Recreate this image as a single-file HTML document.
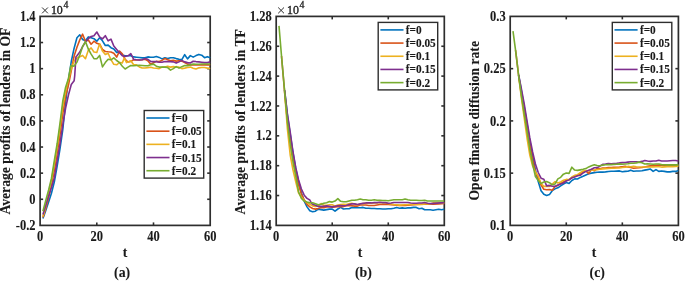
<!DOCTYPE html>
<html><head><meta charset="utf-8"><title>chart</title>
<style>
html,body{margin:0;padding:0;background:#fff;}
svg{display:block;will-change:transform;font-family:"Liberation Serif",serif;font-weight:bold;fill:#1a1a1a;}
text{stroke:#1a1a1a;stroke-width:0.1px;}
.tk{font-size:12.5px;}
.lg{font-size:11.3px;}
.lb{font-size:13.65px;}
.cap{font-size:13.8px;}
</style></head><body>
<svg width="685" height="281" viewBox="0 0 685 281">
<rect width="685" height="281" fill="#fff"/>
<rect x="40.10" y="16.40" width="170.10" height="209.00" fill="none" stroke="#2e2e2e" stroke-width="1.7"/>
<text transform="translate(40.10,241.30) scale(1,1.10)" text-anchor="middle" class="tk">0</text>
<line x1="96.80" y1="225.40" x2="96.80" y2="222.40" stroke="#2e2e2e" stroke-width="1.6"/>
<line x1="96.80" y1="16.40" x2="96.80" y2="19.40" stroke="#2e2e2e" stroke-width="1.6"/>
<text transform="translate(96.80,241.30) scale(1,1.10)" text-anchor="middle" class="tk">20</text>
<line x1="153.50" y1="225.40" x2="153.50" y2="222.40" stroke="#2e2e2e" stroke-width="1.6"/>
<line x1="153.50" y1="16.40" x2="153.50" y2="19.40" stroke="#2e2e2e" stroke-width="1.6"/>
<text transform="translate(153.50,241.30) scale(1,1.10)" text-anchor="middle" class="tk">40</text>
<text transform="translate(210.20,241.30) scale(1,1.10)" text-anchor="middle" class="tk">60</text>
<text transform="translate(35.60,21.00) scale(1,1.10)" text-anchor="end" class="tk">1.4</text>
<line x1="40.10" y1="42.52" x2="43.10" y2="42.52" stroke="#2e2e2e" stroke-width="1.6"/>
<line x1="210.20" y1="42.52" x2="207.20" y2="42.52" stroke="#2e2e2e" stroke-width="1.6"/>
<text transform="translate(35.60,47.12) scale(1,1.10)" text-anchor="end" class="tk">1.2</text>
<line x1="40.10" y1="68.65" x2="43.10" y2="68.65" stroke="#2e2e2e" stroke-width="1.6"/>
<line x1="210.20" y1="68.65" x2="207.20" y2="68.65" stroke="#2e2e2e" stroke-width="1.6"/>
<text transform="translate(35.60,73.25) scale(1,1.10)" text-anchor="end" class="tk">1</text>
<line x1="40.10" y1="94.78" x2="43.10" y2="94.78" stroke="#2e2e2e" stroke-width="1.6"/>
<line x1="210.20" y1="94.78" x2="207.20" y2="94.78" stroke="#2e2e2e" stroke-width="1.6"/>
<text transform="translate(35.60,99.38) scale(1,1.10)" text-anchor="end" class="tk">0.8</text>
<line x1="40.10" y1="120.90" x2="43.10" y2="120.90" stroke="#2e2e2e" stroke-width="1.6"/>
<line x1="210.20" y1="120.90" x2="207.20" y2="120.90" stroke="#2e2e2e" stroke-width="1.6"/>
<text transform="translate(35.60,125.50) scale(1,1.10)" text-anchor="end" class="tk">0.6</text>
<line x1="40.10" y1="147.03" x2="43.10" y2="147.03" stroke="#2e2e2e" stroke-width="1.6"/>
<line x1="210.20" y1="147.03" x2="207.20" y2="147.03" stroke="#2e2e2e" stroke-width="1.6"/>
<text transform="translate(35.60,151.62) scale(1,1.10)" text-anchor="end" class="tk">0.4</text>
<line x1="40.10" y1="173.15" x2="43.10" y2="173.15" stroke="#2e2e2e" stroke-width="1.6"/>
<line x1="210.20" y1="173.15" x2="207.20" y2="173.15" stroke="#2e2e2e" stroke-width="1.6"/>
<text transform="translate(35.60,177.75) scale(1,1.10)" text-anchor="end" class="tk">0.2</text>
<line x1="40.10" y1="199.28" x2="43.10" y2="199.28" stroke="#2e2e2e" stroke-width="1.6"/>
<line x1="210.20" y1="199.28" x2="207.20" y2="199.28" stroke="#2e2e2e" stroke-width="1.6"/>
<text transform="translate(35.60,203.88) scale(1,1.10)" text-anchor="end" class="tk">0</text>
<text transform="translate(35.60,230.00) scale(1,1.10)" text-anchor="end" class="tk">-0.2</text>
<path d="M42.10 7.50 l5.8 5.8 m0 -5.8 l-5.8 5.8" stroke="#2e2e2e" stroke-width="1.0" fill="none"/>
<text x="50.90" y="13.70" style="font-size:11.9px;font-weight:normal;stroke-width:0.35px">10</text>
<text x="63.40" y="7.70" style="font-size:9.8px;font-weight:normal;stroke-width:0.3px">4</text>
<polyline points="42.94,218.40 45.77,210.50 48.61,202.00 51.44,193.20 54.28,182.00 57.11,166.30 59.95,149.10 62.78,129.70 65.62,102.00 68.45,80.00 71.28,61.50 74.12,48.20 76.95,37.80 79.79,34.80 82.62,39.50 85.46,40.80 88.30,36.90 91.13,37.80 93.97,38.70 96.80,41.20 99.63,37.80 102.47,40.80 105.31,45.50 108.14,45.10 110.97,47.70 113.81,49.00 116.65,52.40 119.48,51.50 122.31,55.11 125.15,55.80 127.99,55.80 130.82,55.80 133.66,56.91 136.49,57.19 139.32,57.47 142.16,57.88 145.00,57.88 147.83,56.91 150.66,57.19 153.50,57.19 156.34,56.50 159.17,57.40 162.00,58.89 164.84,57.70 167.68,58.60 170.51,57.70 173.34,57.70 176.18,58.60 179.01,59.19 181.85,59.64 184.69,54.71 187.52,58.89 190.35,55.61 193.19,57.10 196.03,55.61 198.86,54.41 201.69,55.16 204.53,57.70 207.36,56.65 210.20,57.70" fill="none" stroke="#0072BD" stroke-width="1.6" stroke-linejoin="round" stroke-linecap="butt"/>
<polyline points="42.94,217.50 45.77,208.50 48.61,197.50 51.44,184.80 54.28,170.60 57.11,153.40 59.95,135.20 62.78,113.60 65.62,96.00 68.45,85.00 71.28,70.50 74.12,56.00 76.95,47.20 79.79,39.90 82.62,34.20 85.46,41.20 88.30,40.00 91.13,44.20 93.97,41.20 96.80,43.30 99.63,44.20 102.47,49.40 105.31,51.50 108.14,51.80 110.97,52.00 113.81,53.30 116.65,57.10 119.48,51.20 122.31,53.90 125.15,59.27 127.99,62.05 130.82,61.35 133.66,59.69 136.49,59.97 139.32,59.97 142.16,59.69 145.00,59.27 147.83,60.66 150.66,64.13 153.50,62.74 156.34,61.35 159.17,61.58 162.00,60.39 164.84,58.60 167.68,59.64 170.51,60.69 173.34,60.39 176.18,61.14 179.01,60.69 181.85,61.14 184.69,62.63 187.52,64.12 190.35,64.87 193.19,64.87 210.20,64.87" fill="none" stroke="#D95319" stroke-width="1.6" stroke-linejoin="round" stroke-linecap="butt"/>
<polyline points="42.94,216.50 45.77,206.00 48.61,194.00 51.44,180.60 54.28,164.50 57.11,147.40 59.95,127.60 62.78,105.50 65.62,91.00 68.45,79.50 71.28,68.50 74.12,61.00 76.95,58.00 79.79,56.70 82.62,55.40 85.46,58.70 88.30,50.30 91.13,47.90 93.97,52.00 96.80,52.40 99.63,43.80 102.47,51.10 105.31,54.50 108.14,53.30 110.97,59.70 113.81,64.30 116.65,64.80 119.48,62.50 122.31,62.90 124.30,58.10 126.57,62.60 127.99,61.90 130.82,60.80 133.66,64.82 136.49,64.82 139.32,66.90 142.16,68.01 145.00,68.01 147.83,67.59 150.66,67.18 153.50,68.01 156.34,68.29 159.17,68.60 162.00,67.11 164.84,67.11 167.68,66.36 170.51,67.11 173.34,66.66 176.18,67.11 179.01,67.11 181.85,68.60 184.69,68.15 187.52,67.56 190.35,67.11 193.19,68.15 196.03,69.05 198.86,67.86 201.69,67.56 204.53,67.56 207.36,68.15 210.20,68.60" fill="none" stroke="#EDB120" stroke-width="1.6" stroke-linejoin="round" stroke-linecap="butt"/>
<polyline points="42.94,214.50 45.77,205.50 48.61,196.00 51.44,187.50 54.28,178.00 57.11,161.00 59.95,144.00 62.78,125.00 65.62,108.00 68.45,95.00 71.28,84.50 74.12,80.80 74.69,76.00 75.91,57.10 76.95,55.80 79.79,52.00 82.62,46.60 85.46,42.00 88.30,38.70 91.13,36.50 93.97,35.70 96.80,32.00 99.63,36.90 102.47,38.90 105.31,35.70 108.14,40.80 110.97,39.10 113.81,46.00 116.65,49.40 119.48,52.80 122.31,55.80 125.15,56.50 127.99,55.80 130.82,53.72 133.66,59.27 136.49,59.69 139.32,59.97 142.16,59.69 145.00,58.58 147.83,59.27 150.66,61.35 153.50,61.63 156.34,61.63 159.17,62.18 162.00,62.18 164.84,61.58 167.68,61.58 170.51,61.58 173.34,61.88 176.18,63.08 179.01,61.88 181.85,60.39 184.69,61.88 187.52,62.63 190.35,63.00 193.19,61.20 196.03,61.58 198.86,61.88 201.69,62.18 204.53,62.63 207.36,62.63 210.20,61.88" fill="none" stroke="#7E2F8E" stroke-width="1.6" stroke-linejoin="round" stroke-linecap="butt"/>
<polyline points="42.94,211.20 45.77,200.50 48.61,190.00 51.44,178.50 54.28,161.00 57.11,144.00 59.95,123.50 62.78,101.00 65.62,87.20 68.45,78.50 70.72,66.20 71.28,65.70 74.12,66.10 76.95,62.10 79.79,55.00 82.62,46.40 85.46,41.60 88.30,49.00 91.13,54.10 93.97,58.60 96.80,58.80 99.63,55.40 102.47,66.90 105.31,62.60 108.14,59.20 110.97,59.80 113.81,57.90 116.65,60.50 119.48,62.60 122.31,66.21 125.15,68.98 127.99,67.18 130.82,65.51 133.66,65.79 136.49,65.51 139.32,65.24 142.16,65.51 145.00,65.79 147.83,65.79 150.66,64.82 153.50,64.13 156.34,66.21 159.17,67.11 162.00,67.11 164.84,67.11 167.68,67.56 170.51,70.10 173.34,68.60 176.18,66.66 179.01,68.15 181.85,66.66 184.69,65.62 187.52,65.62 190.35,64.87 193.19,63.98 196.03,64.27 198.86,64.27 201.69,63.98 204.53,63.98 207.36,63.98 210.20,63.98" fill="none" stroke="#77AC30" stroke-width="1.6" stroke-linejoin="round" stroke-linecap="butt"/>
<rect x="144.20" y="110.50" width="59.50" height="67.60" fill="#fff" stroke="#2e2e2e" stroke-width="1.4"/>
<line x1="146.40" y1="118.00" x2="169.50" y2="118.00" stroke="#0072BD" stroke-width="1.6"/>
<text transform="translate(171.80,122.00) scale(1,1.05)" class="lg">f=0</text>
<line x1="146.40" y1="131.18" x2="169.50" y2="131.18" stroke="#D95319" stroke-width="1.6"/>
<text transform="translate(171.80,135.18) scale(1,1.05)" class="lg">f=0.05</text>
<line x1="146.40" y1="144.36" x2="169.50" y2="144.36" stroke="#EDB120" stroke-width="1.6"/>
<text transform="translate(171.80,148.36) scale(1,1.05)" class="lg">f=0.1</text>
<line x1="146.40" y1="157.54" x2="169.50" y2="157.54" stroke="#7E2F8E" stroke-width="1.6"/>
<text transform="translate(171.80,161.54) scale(1,1.05)" class="lg">f=0.15</text>
<line x1="146.40" y1="170.72" x2="169.50" y2="170.72" stroke="#77AC30" stroke-width="1.6"/>
<text transform="translate(171.80,174.72) scale(1,1.05)" class="lg">f=0.2</text>
<rect x="276.20" y="16.40" width="168.10" height="209.00" fill="none" stroke="#2e2e2e" stroke-width="1.7"/>
<text transform="translate(276.20,241.30) scale(1,1.10)" text-anchor="middle" class="tk">0</text>
<line x1="332.23" y1="225.40" x2="332.23" y2="222.40" stroke="#2e2e2e" stroke-width="1.6"/>
<line x1="332.23" y1="16.40" x2="332.23" y2="19.40" stroke="#2e2e2e" stroke-width="1.6"/>
<text transform="translate(332.23,241.30) scale(1,1.10)" text-anchor="middle" class="tk">20</text>
<line x1="388.27" y1="225.40" x2="388.27" y2="222.40" stroke="#2e2e2e" stroke-width="1.6"/>
<line x1="388.27" y1="16.40" x2="388.27" y2="19.40" stroke="#2e2e2e" stroke-width="1.6"/>
<text transform="translate(388.27,241.30) scale(1,1.10)" text-anchor="middle" class="tk">40</text>
<text transform="translate(444.30,241.30) scale(1,1.10)" text-anchor="middle" class="tk">60</text>
<text transform="translate(271.70,21.00) scale(1,1.10)" text-anchor="end" class="tk">1.28</text>
<line x1="276.20" y1="46.26" x2="279.20" y2="46.26" stroke="#2e2e2e" stroke-width="1.6"/>
<line x1="444.30" y1="46.26" x2="441.30" y2="46.26" stroke="#2e2e2e" stroke-width="1.6"/>
<text transform="translate(271.70,50.86) scale(1,1.10)" text-anchor="end" class="tk">1.26</text>
<line x1="276.20" y1="76.11" x2="279.20" y2="76.11" stroke="#2e2e2e" stroke-width="1.6"/>
<line x1="444.30" y1="76.11" x2="441.30" y2="76.11" stroke="#2e2e2e" stroke-width="1.6"/>
<text transform="translate(271.70,80.71) scale(1,1.10)" text-anchor="end" class="tk">1.24</text>
<line x1="276.20" y1="105.97" x2="279.20" y2="105.97" stroke="#2e2e2e" stroke-width="1.6"/>
<line x1="444.30" y1="105.97" x2="441.30" y2="105.97" stroke="#2e2e2e" stroke-width="1.6"/>
<text transform="translate(271.70,110.57) scale(1,1.10)" text-anchor="end" class="tk">1.22</text>
<line x1="276.20" y1="135.83" x2="279.20" y2="135.83" stroke="#2e2e2e" stroke-width="1.6"/>
<line x1="444.30" y1="135.83" x2="441.30" y2="135.83" stroke="#2e2e2e" stroke-width="1.6"/>
<text transform="translate(271.70,140.43) scale(1,1.10)" text-anchor="end" class="tk">1.2</text>
<line x1="276.20" y1="165.69" x2="279.20" y2="165.69" stroke="#2e2e2e" stroke-width="1.6"/>
<line x1="444.30" y1="165.69" x2="441.30" y2="165.69" stroke="#2e2e2e" stroke-width="1.6"/>
<text transform="translate(271.70,170.29) scale(1,1.10)" text-anchor="end" class="tk">1.18</text>
<line x1="276.20" y1="195.54" x2="279.20" y2="195.54" stroke="#2e2e2e" stroke-width="1.6"/>
<line x1="444.30" y1="195.54" x2="441.30" y2="195.54" stroke="#2e2e2e" stroke-width="1.6"/>
<text transform="translate(271.70,200.14) scale(1,1.10)" text-anchor="end" class="tk">1.16</text>
<text transform="translate(271.70,230.00) scale(1,1.10)" text-anchor="end" class="tk">1.14</text>
<path d="M278.20 7.50 l5.8 5.8 m0 -5.8 l-5.8 5.8" stroke="#2e2e2e" stroke-width="1.0" fill="none"/>
<text x="287.00" y="13.70" style="font-size:11.9px;font-weight:normal;stroke-width:0.35px">10</text>
<text x="299.50" y="7.70" style="font-size:9.8px;font-weight:normal;stroke-width:0.3px">4</text>
<polyline points="284.61,90.50 287.41,115.00 290.21,134.00 293.01,153.00 295.81,169.00 298.61,182.00 301.41,193.00 304.22,201.10 307.02,206.90 309.82,210.70 312.62,211.70 315.42,211.20 318.23,209.10 321.03,209.60 323.83,210.10 326.63,209.60 329.43,209.10 332.23,209.10 335.03,211.20 337.84,209.00 340.64,207.40 343.44,209.00 346.24,208.68 349.04,208.68 351.85,207.40 354.65,207.72 357.45,207.72 360.25,207.72 363.05,207.40 365.85,208.20 368.65,208.20 371.46,208.52 374.26,208.52 377.06,208.68 379.86,208.68 382.66,209.00 385.47,209.00 388.27,208.68 391.07,208.68 393.87,208.20 396.67,207.40 399.47,208.20 402.27,207.88 405.08,208.20 407.88,207.88 410.68,207.88 413.48,207.40 416.28,207.40 419.09,208.68 421.89,208.20 424.69,209.80 427.49,209.80 430.29,209.80 433.09,210.28 435.89,209.80 438.70,209.32 441.50,209.80 444.30,209.32" fill="none" stroke="#0072BD" stroke-width="1.6" stroke-linejoin="round" stroke-linecap="butt"/>
<polyline points="281.52,56.14 281.80,59.50 284.61,92.30 287.41,121.00 290.21,140.00 293.01,158.00 295.81,173.00 298.61,185.00 301.41,194.00 304.22,200.00 307.02,204.30 309.82,206.90 312.62,208.50 315.42,209.10 318.23,208.50 321.03,207.50 323.83,207.80 326.63,206.90 329.43,206.90 332.23,207.10 335.03,206.90 337.84,206.60 340.64,206.60 343.44,206.60 346.24,205.80 349.04,205.80 351.85,205.80 354.65,206.12 357.45,206.12 360.25,205.00 363.05,205.00 365.85,205.00 368.65,205.48 371.46,205.48 374.26,205.48 377.06,205.00 379.86,204.52 382.66,204.52 385.47,204.52 388.27,204.52 393.87,205.00 399.47,205.48 405.08,205.48 410.68,205.00 416.28,204.52 421.89,204.20 427.49,204.20 433.09,204.20 438.70,203.88 444.30,203.40" fill="none" stroke="#D95319" stroke-width="1.6" stroke-linejoin="round" stroke-linecap="butt"/>
<polyline points="284.61,92.00 287.41,129.00 290.21,155.00 293.01,170.00 295.81,182.00 298.61,193.00 301.41,197.00 304.22,200.50 307.02,202.70 309.82,204.30 312.62,205.90 315.42,206.40 318.23,205.90 321.03,203.50 323.83,205.30 326.63,205.30 329.43,204.80 332.23,204.80 335.03,205.90 337.84,205.00 340.64,204.52 343.44,204.20 346.24,204.52 349.04,203.88 351.85,203.24 357.45,204.77 360.25,204.13 363.05,203.65 365.85,203.17 368.65,203.17 371.46,203.17 374.26,202.85 377.06,202.85 379.86,202.53 382.66,202.85 385.47,202.85 388.27,203.55 393.87,204.48 399.47,205.12 405.08,204.80 410.68,204.48 416.28,204.48 421.89,204.48 427.49,203.60 430.29,203.92 433.09,202.90 438.70,202.90 444.30,202.90" fill="none" stroke="#EDB120" stroke-width="1.6" stroke-linejoin="round" stroke-linecap="butt"/>
<polyline points="284.61,90.00 287.41,114.00 290.21,132.00 293.01,152.00 295.81,168.00 298.61,180.00 301.41,189.00 304.22,195.20 307.02,198.40 309.82,200.00 311.50,203.20 312.62,204.30 315.42,205.30 318.23,206.40 321.03,206.40 323.83,206.40 326.63,205.90 329.43,206.40 332.23,206.90 335.03,206.40 337.84,205.80 340.64,205.48 343.44,205.80 346.24,205.48 349.04,204.52 351.85,203.88 354.65,203.88 357.45,204.52 360.25,203.88 363.05,203.40 365.85,202.92 368.65,202.92 371.46,202.92 374.26,202.60 377.06,202.60 379.86,202.28 382.66,202.60 385.47,202.60 388.27,203.30 391.07,202.98 393.87,202.50 405.08,202.50 407.88,202.50 410.68,202.98 413.48,203.30 416.28,203.30 419.09,202.98 421.89,202.98 424.69,202.50 427.49,203.30 430.29,203.62 444.30,202.60" fill="none" stroke="#7E2F8E" stroke-width="1.6" stroke-linejoin="round" stroke-linecap="butt"/>
<polyline points="279.00,25.90 281.80,59.50 284.61,91.00 287.41,122.00 290.21,144.00 293.01,162.00 295.81,176.00 298.61,192.00 301.41,198.40 304.22,201.10 307.02,202.10 309.82,202.70 312.62,202.70 315.42,203.70 318.23,204.80 321.03,204.30 323.83,203.20 326.63,202.70 329.43,201.60 332.23,202.10 335.03,201.10 337.84,198.70 340.64,201.32 343.44,201.80 346.24,201.80 349.04,201.00 351.85,200.20 354.65,200.20 357.45,199.72 360.25,199.08 363.05,199.72 365.85,199.72 368.65,200.20 371.46,200.20 374.26,199.72 377.06,200.20 379.86,200.20 382.66,200.52 385.47,200.52 388.27,200.68 391.07,200.20 393.87,199.72 396.67,199.72 399.47,199.72 402.27,199.72 405.08,199.08 407.88,199.72 410.68,200.20 413.48,200.20 416.28,200.20 419.09,200.52 421.89,200.52 424.69,200.20 427.49,201.00 430.29,201.00 433.09,201.00 444.30,201.00" fill="none" stroke="#77AC30" stroke-width="1.6" stroke-linejoin="round" stroke-linecap="butt"/>
<rect x="378.20" y="22.40" width="59.50" height="67.50" fill="#fff" stroke="#2e2e2e" stroke-width="1.4"/>
<line x1="380.40" y1="29.90" x2="403.50" y2="29.90" stroke="#0072BD" stroke-width="1.6"/>
<text transform="translate(405.80,33.90) scale(1,1.05)" class="lg">f=0</text>
<line x1="380.40" y1="43.08" x2="403.50" y2="43.08" stroke="#D95319" stroke-width="1.6"/>
<text transform="translate(405.80,47.08) scale(1,1.05)" class="lg">f=0.05</text>
<line x1="380.40" y1="56.26" x2="403.50" y2="56.26" stroke="#EDB120" stroke-width="1.6"/>
<text transform="translate(405.80,60.26) scale(1,1.05)" class="lg">f=0.1</text>
<line x1="380.40" y1="69.44" x2="403.50" y2="69.44" stroke="#7E2F8E" stroke-width="1.6"/>
<text transform="translate(405.80,73.44) scale(1,1.05)" class="lg">f=0.15</text>
<line x1="380.40" y1="82.62" x2="403.50" y2="82.62" stroke="#77AC30" stroke-width="1.6"/>
<text transform="translate(405.80,86.62) scale(1,1.05)" class="lg">f=0.2</text>
<rect x="510.20" y="16.40" width="168.20" height="209.00" fill="none" stroke="#2e2e2e" stroke-width="1.7"/>
<text transform="translate(510.20,241.30) scale(1,1.10)" text-anchor="middle" class="tk">0</text>
<line x1="566.27" y1="225.40" x2="566.27" y2="222.40" stroke="#2e2e2e" stroke-width="1.6"/>
<line x1="566.27" y1="16.40" x2="566.27" y2="19.40" stroke="#2e2e2e" stroke-width="1.6"/>
<text transform="translate(566.27,241.30) scale(1,1.10)" text-anchor="middle" class="tk">20</text>
<line x1="622.33" y1="225.40" x2="622.33" y2="222.40" stroke="#2e2e2e" stroke-width="1.6"/>
<line x1="622.33" y1="16.40" x2="622.33" y2="19.40" stroke="#2e2e2e" stroke-width="1.6"/>
<text transform="translate(622.33,241.30) scale(1,1.10)" text-anchor="middle" class="tk">40</text>
<text transform="translate(678.40,241.30) scale(1,1.10)" text-anchor="middle" class="tk">60</text>
<text transform="translate(505.70,21.00) scale(1,1.10)" text-anchor="end" class="tk">0.3</text>
<line x1="510.20" y1="68.65" x2="513.20" y2="68.65" stroke="#2e2e2e" stroke-width="1.6"/>
<line x1="678.40" y1="68.65" x2="675.40" y2="68.65" stroke="#2e2e2e" stroke-width="1.6"/>
<text transform="translate(505.70,73.25) scale(1,1.10)" text-anchor="end" class="tk">0.25</text>
<line x1="510.20" y1="120.90" x2="513.20" y2="120.90" stroke="#2e2e2e" stroke-width="1.6"/>
<line x1="678.40" y1="120.90" x2="675.40" y2="120.90" stroke="#2e2e2e" stroke-width="1.6"/>
<text transform="translate(505.70,125.50) scale(1,1.10)" text-anchor="end" class="tk">0.2</text>
<line x1="510.20" y1="173.15" x2="513.20" y2="173.15" stroke="#2e2e2e" stroke-width="1.6"/>
<line x1="678.40" y1="173.15" x2="675.40" y2="173.15" stroke="#2e2e2e" stroke-width="1.6"/>
<text transform="translate(505.70,177.75) scale(1,1.10)" text-anchor="end" class="tk">0.15</text>
<text transform="translate(505.70,230.00) scale(1,1.10)" text-anchor="end" class="tk">0.1</text>
<polyline points="518.61,75.00 521.41,91.00 524.22,107.00 527.02,124.00 529.82,141.00 532.63,156.00 535.43,170.00 538.23,181.60 541.04,190.70 543.84,194.30 546.64,195.50 549.45,194.60 552.25,190.70 555.05,188.80 557.86,187.80 560.66,185.90 563.46,184.00 566.27,182.60 569.07,183.40 571.87,180.52 574.68,178.92 577.48,179.00 580.28,177.40 583.09,176.30 585.89,174.99 588.69,173.71 591.50,173.10 594.30,172.60 597.10,172.30 599.91,172.10 602.71,172.10 605.51,171.90 608.32,171.50 611.12,171.20 613.92,171.20 616.73,171.08 619.53,170.92 622.33,171.73 625.14,171.41 627.94,171.20 630.74,170.13 633.55,171.20 636.35,170.99 639.15,170.99 641.96,170.67 644.76,170.13 647.56,169.60 650.37,169.07 653.17,171.41 655.97,169.60 658.78,171.41 661.58,170.92 664.38,171.40 667.19,171.88 669.99,171.88 672.79,171.40 675.60,171.40 678.40,170.60" fill="none" stroke="#0072BD" stroke-width="1.6" stroke-linejoin="round" stroke-linecap="butt"/>
<polyline points="515.53,50.10 515.81,52.20 518.61,75.50 521.41,94.00 524.22,111.00 527.02,128.00 529.82,145.00 532.63,160.00 535.43,172.00 538.23,177.80 541.04,185.00 543.84,189.30 546.64,189.80 549.45,189.50 552.25,190.20 555.05,186.40 557.86,185.40 560.66,183.50 563.46,182.00 566.27,180.20 569.07,179.40 571.87,177.80 574.68,176.20 577.48,175.40 580.28,174.20 583.09,172.10 585.89,171.00 588.69,173.70 591.50,169.40 594.30,170.80 597.10,168.53 599.91,168.85 602.71,168.00 605.51,168.00 608.32,167.57 611.12,167.47 613.92,167.25 616.73,167.36 619.53,167.15 622.33,166.72 625.14,166.40 627.94,166.93 630.74,167.47 633.55,168.21 636.35,168.00 639.15,167.79 641.96,167.47 644.76,166.93 647.56,166.40 650.37,165.87 653.17,165.65 655.97,165.33 658.78,165.01 661.58,165.20 664.38,165.30 667.19,165.30 669.99,165.30 672.79,165.30 675.60,165.30 678.40,165.20" fill="none" stroke="#D95319" stroke-width="1.6" stroke-linejoin="round" stroke-linecap="butt"/>
<polyline points="518.61,76.00 521.41,98.00 524.22,118.00 527.02,138.00 529.82,155.00 532.63,166.00 535.43,172.00 538.23,176.00 541.04,183.50 543.84,186.40 546.64,186.20 549.45,186.40 552.25,184.00 555.05,181.60 557.86,183.00 560.66,182.00 563.46,180.20 566.27,179.40 569.07,179.88 571.87,177.00 574.68,175.40 577.48,174.70 580.28,172.60 583.09,171.00 585.89,170.50 588.69,171.00 591.50,170.30 594.30,170.00 597.10,169.60 599.91,169.28 602.71,168.85 605.51,168.64 608.32,168.53 611.12,168.32 613.92,168.21 616.73,168.00 619.53,167.89 622.33,167.57 625.14,167.15 627.94,166.40 630.74,166.72 633.55,166.40 636.35,166.72 639.15,166.93 641.96,166.93 644.76,166.93 647.56,166.93 650.37,166.93 653.17,166.83 655.97,166.72 658.78,166.72 661.58,167.08 667.19,166.60 672.79,166.60 678.40,166.12" fill="none" stroke="#EDB120" stroke-width="1.6" stroke-linejoin="round" stroke-linecap="butt"/>
<polyline points="518.61,75.00 521.41,89.00 524.22,104.00 527.02,121.00 529.82,138.00 532.63,152.00 535.43,164.00 538.23,172.50 541.04,178.20 543.84,179.20 546.64,185.90 549.45,185.40 552.25,186.20 555.05,186.40 557.86,185.00 560.66,184.00 563.46,183.00 566.27,181.00 569.07,179.88 571.87,177.80 574.68,177.00 577.48,175.80 580.28,175.30 583.09,173.00 585.89,171.40 588.69,170.30 591.50,169.20 594.30,167.80 597.10,167.60 599.91,166.20 602.71,164.40 605.51,164.10 608.32,163.50 611.12,163.70 613.92,163.50 616.73,163.40 619.53,162.92 622.33,162.67 625.14,162.45 627.94,162.13 630.74,161.81 633.55,161.81 636.35,161.81 639.15,162.03 641.96,161.39 644.76,160.53 647.56,161.07 650.37,161.39 653.17,161.07 655.97,161.07 658.78,160.32 661.58,161.00 664.38,161.00 667.19,161.00 669.99,160.68 672.79,160.52 675.60,160.52 678.40,161.00" fill="none" stroke="#7E2F8E" stroke-width="1.6" stroke-linejoin="round" stroke-linecap="butt"/>
<polyline points="513.00,31.20 515.81,52.20 518.61,75.50 521.41,96.00 524.22,114.00 527.02,131.00 529.82,149.00 532.63,164.00 535.43,176.50 538.23,180.60 541.04,183.50 543.84,182.00 546.64,181.60 549.45,182.67 552.25,184.80 555.05,183.95 557.86,178.93 560.66,177.33 563.46,174.13 566.27,173.07 569.07,173.39 571.87,167.20 574.68,170.08 577.48,170.40 580.28,169.87 583.09,169.33 585.89,168.59 588.69,166.90 591.50,165.70 594.30,164.80 597.10,165.50 599.91,165.70 602.71,165.10 605.51,164.80 608.32,164.60 611.12,164.60 613.92,164.40 616.73,164.20 619.53,163.88 622.33,164.27 625.14,163.95 627.94,163.73 630.74,163.20 633.55,163.20 636.35,162.88 639.15,162.13 641.96,162.67 644.76,163.95 647.56,163.73 650.37,163.95 653.17,164.27 655.97,163.95 658.78,163.95 661.58,164.60 664.38,164.80 667.19,164.90 669.99,164.90 672.79,164.90 675.60,164.90 678.40,164.90" fill="none" stroke="#77AC30" stroke-width="1.6" stroke-linejoin="round" stroke-linecap="butt"/>
<rect x="612.30" y="22.40" width="59.50" height="67.50" fill="#fff" stroke="#2e2e2e" stroke-width="1.4"/>
<line x1="614.50" y1="29.90" x2="637.60" y2="29.90" stroke="#0072BD" stroke-width="1.6"/>
<text transform="translate(639.90,33.90) scale(1,1.05)" class="lg">f=0</text>
<line x1="614.50" y1="43.08" x2="637.60" y2="43.08" stroke="#D95319" stroke-width="1.6"/>
<text transform="translate(639.90,47.08) scale(1,1.05)" class="lg">f=0.05</text>
<line x1="614.50" y1="56.26" x2="637.60" y2="56.26" stroke="#EDB120" stroke-width="1.6"/>
<text transform="translate(639.90,60.26) scale(1,1.05)" class="lg">f=0.1</text>
<line x1="614.50" y1="69.44" x2="637.60" y2="69.44" stroke="#7E2F8E" stroke-width="1.6"/>
<text transform="translate(639.90,73.44) scale(1,1.05)" class="lg">f=0.15</text>
<line x1="614.50" y1="82.62" x2="637.60" y2="82.62" stroke="#77AC30" stroke-width="1.6"/>
<text transform="translate(639.90,86.62) scale(1,1.05)" class="lg">f=0.2</text>
<text transform="translate(10.40,121.10) rotate(-90)" text-anchor="middle" class="lb">Average profits of lenders in OF</text>
<text transform="translate(244.50,121.80) rotate(-90)" text-anchor="middle" class="lb">Average profits of lenders in TF</text>
<text transform="translate(479.20,120.80) rotate(-90)" text-anchor="middle" class="lb">Open finance diffusion rate</text>
<text x="124.95" y="256.80" text-anchor="middle" class="lb">t</text>
<text x="122.10" y="276.50" text-anchor="middle" class="cap">(a)</text>
<text x="360.05" y="256.80" text-anchor="middle" class="lb">t</text>
<text x="363.40" y="276.50" text-anchor="middle" class="cap">(b)</text>
<text x="594.10" y="256.80" text-anchor="middle" class="lb">t</text>
<text x="597.20" y="276.50" text-anchor="middle" class="cap">(c)</text>
</svg>
</body></html>
